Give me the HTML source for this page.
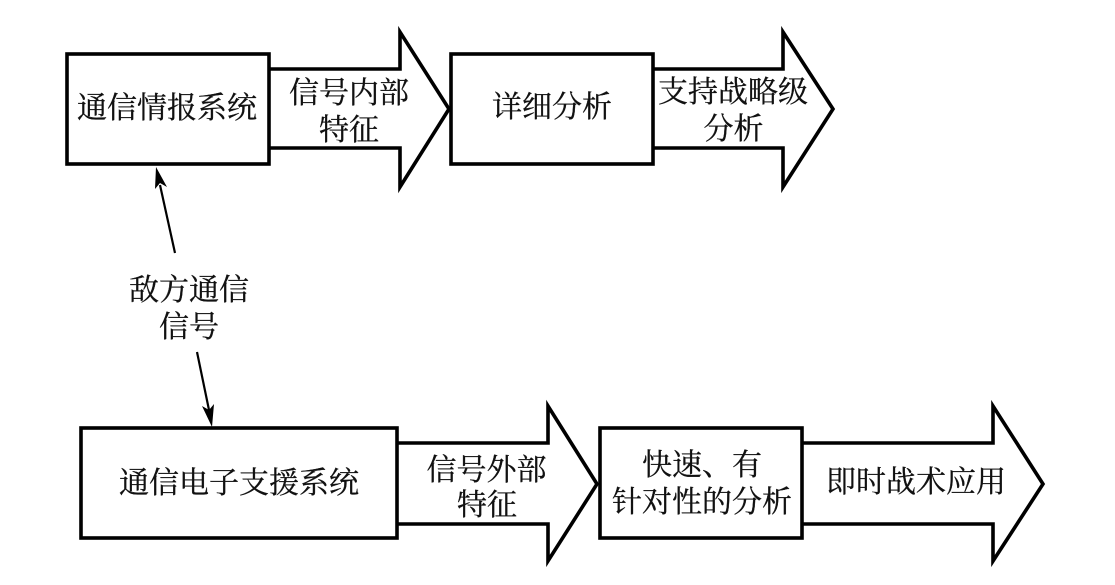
<!DOCTYPE html>
<html lang="zh">
<head>
<meta charset="utf-8">
<style>
html,body{margin:0;padding:0;background:#fff;width:1115px;height:585px;overflow:hidden}
svg{display:block}
text{font-family:"Noto Serif CJK SC","Liberation Serif",serif;font-size:30px;fill:#111;stroke:#111;stroke-width:.3;text-anchor:middle}
.s{fill:#fff;stroke:#000;stroke-width:3.6;stroke-linejoin:miter;stroke-miterlimit:10}
.o{fill:none;stroke:#000;stroke-width:3.6;stroke-linejoin:miter;stroke-miterlimit:10}
</style>
</head>
<body>
<svg width="1115" height="585" viewBox="0 0 1115 585" xmlns="http://www.w3.org/2000/svg">
<path class="o" d="M268 69H400V32L449 109L400 187V148H268"/>
<path class="o" d="M652 69H783V32L833 109L783 187V148H652"/>
<path class="o" d="M397 443H548V406L597 484L548 561V524H397"/>
<path class="o" d="M801 443H993V406L1043 484L993 561V524H801"/>
<rect class="s" x="67" y="54" width="202" height="110"/>
<rect class="s" x="451" y="54" width="202" height="110"/>
<rect class="s" x="81" y="428" width="316" height="110"/>
<rect class="s" x="600" y="428" width="202" height="110"/>
<line x1="175" y1="253" x2="160" y2="185" stroke="#000" stroke-width="2.2"/>
<path d="M156 167L167 187L160 183L155 189Z" fill="#000"/>
<line x1="197" y1="352" x2="209" y2="410" stroke="#000" stroke-width="2.2"/>
<path d="M212 427L202 406L209 410L214 404Z" fill="#000"/>
<text x="167" y="118">通信情报系统</text>
<text x="349" y="103">信号内部</text>
<text x="349" y="140">特征</text>
<text x="552" y="117">详细分析</text>
<text x="733" y="102">支持战略级</text>
<text x="733.5" y="139">分析</text>
<text x="189" y="300">敌方通信</text>
<text x="189" y="337">信号</text>
<text x="239" y="493">通信电子支援系统</text>
<text x="486.5" y="480">信号外部</text>
<text x="487" y="515">特征</text>
<text x="702" y="475">快速、有</text>
<text x="702" y="512">针对性的分析</text>
<text x="916" y="492">即时战术应用</text>
</svg>
</body>
</html>
